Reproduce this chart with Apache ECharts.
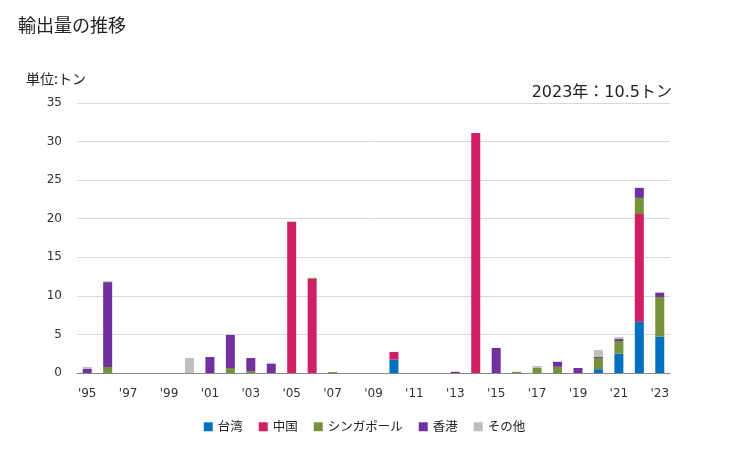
<!DOCTYPE html>
<html>
<head>
<meta charset="utf-8">
<script src="https://cdn.jsdelivr.net/npm/echarts@6/dist/echarts.min.js"></script>
<style>
html,body{margin:0;padding:0;background:#fff;}
#c{width:729px;height:450px;}
</style>
</head>
<body>
<div id="c"></div>
<script>
const years = [1995,1996,1997,1998,1999,2000,2001,2002,2003,2004,2005,2006,2007,2008,2009,2010,2011,2012,2013,2014,2015,2016,2017,2018,2019,2020,2021,2022,2023];
const categories = years.map(y => "'" + String(y).slice(2));
const taiwan    = [0,0,0,0,0,0,0,0,0,0,0,0,0,0,0,1.73,0,0,0,0,0,0,0,0,0,0.5,2.5,6.65,4.7];
const china     = [0,0,0,0,0,0,0,0,0,0,19.6,12.2,0,0,0,1.0,0,0,0,31.1,0,0,0,0,0,0,0,13.95,0];
const singapore = [0,0.78,0,0,0,0,0,0.65,0.26,0,0,0.13,0.13,0,0,0,0,0,0,0,0,0.15,0.65,0.8,0,1.45,1.65,2.1,5.15];
const hongkong  = [0.52,11.0,0,0,0,0,2.07,4.28,1.68,1.2,0,0,0,0,0,0,0,0,0.15,0,3.25,0,0,0.65,0.65,0.12,0.25,1.3,0.55];
const others    = [0.26,0.13,0,0,0,1.94,0,0,0,0.13,0,0,0,0,0,0,0,0,0,0,0,0,0.25,0,0,0.9,0.25,0,0.1];
const seriesNames = ['台湾','中国','シンガポール','香港','その他'];
const seriesData = [taiwan, china, singapore, hongkong, others];
const colors = ['#0070C0','#D01E62','#76933C','#7030A0','#BFBFBF'];
const yTicks = [0,5,10,15,20,25,30,35];

const font = '"Noto Sans CJK JP","Noto Sans",sans-serif';
const numFont = '"DejaVu Sans","Noto Sans CJK JP",sans-serif';
const chart = echarts.init(document.getElementById('c'));
chart.setOption({
  animation: false,
  textStyle: {fontFamily: font},
  color: colors,
  title: [
    {text: '輸出量の推移', left: 13, top: 11, textStyle: {fontSize: 18, fontWeight: 'normal', color: '#222', fontFamily: font}},
    {text: '単位:トン', left: 21, top: 67, textStyle: {fontSize: 14, fontWeight: 'normal', color: '#222', fontFamily: font}},
    {text: '2023年：10.5トン', right: 52, top: 80, textStyle: {fontSize: 16, fontWeight: 'normal', color: '#222', fontFamily: numFont}}
  ],
  legend: {
    bottom: 12, left: 'center',
    itemWidth: 9, itemHeight: 9, itemGap: 16,
    icon: 'rect',
    textStyle: {fontSize: 12.5, color: '#222', fontFamily: font},
    data: seriesNames
  },
  grid: {left: 77, right: 59, top: 103, bottom: 77, containLabel: false},
  xAxis: {
    type: 'category',
    data: categories,
    axisTick: {show: false},
    axisLine: {lineStyle: {color: '#888'}},
    axisLabel: {interval: 1, color: '#333', fontSize: 12, margin: 15, fontFamily: numFont}
  },
  yAxis: {
    type: 'value',
    min: 0, max: 35, interval: 5,
    axisLine: {show: false},
    axisTick: {show: false},
    splitLine: {lineStyle: {color: '#d9d9d9'}},
    axisLabel: {color: '#333', fontSize: 12, margin: 15, fontFamily: numFont}
  },
  series: seriesNames.map((n, i) => ({
    name: n, type: 'bar', stack: 'total', barWidth: 9,
    data: seriesData[i]
  }))
});
</script>
</body>
</html>
